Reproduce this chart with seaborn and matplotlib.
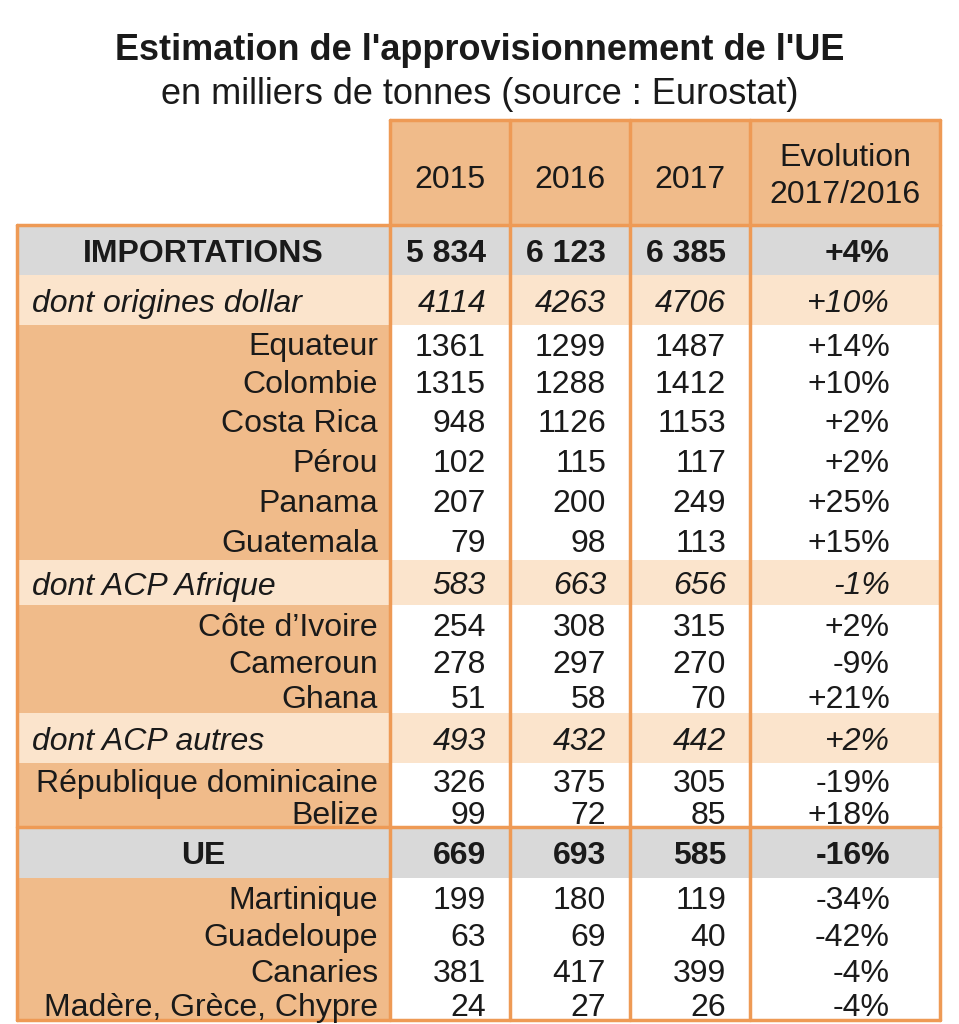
import matplotlib
matplotlib.use("Agg")
import matplotlib.pyplot as plt
from matplotlib.patches import Rectangle
import seaborn as sns

# --- data -------------------------------------------------------------
years = ["2015", "2016", "2017"]
evol_header = "Evolution\n2017/2016"

labels = [
    "IMPORTATIONS", "dont origines dollar",
    "Equateur", "Colombie", "Costa Rica", "Pérou", "Panama", "Guatemala",
    "dont ACP Afrique",
    "Côte d\u2019Ivoire", "Cameroun", "Ghana",
    "dont ACP autres",
    "République dominicaine", "Belize",
    "UE",
    "Martinique", "Guadeloupe", "Canaries", "Madère, Grèce, Chypre",
]
kinds = [
    "total", "group",
    "item", "item", "item", "item", "item", "item",
    "group",
    "item", "item", "item",
    "group",
    "item", "item",
    "total",
    "item", "item", "item", "item",
]
v2015 = ["5 834", "4114", "1361", "1315", "948", "102", "207", "79", "583",
         "254", "278", "51", "493", "326", "99", "669", "199", "63", "381", "24"]
v2016 = ["6 123", "4263", "1299", "1288", "1126", "115", "200", "98", "663",
         "308", "297", "58", "432", "375", "72", "693", "180", "69", "417", "27"]
v2017 = ["6 385", "4706", "1487", "1412", "1153", "117", "249", "113", "656",
         "315", "270", "70", "442", "305", "85", "585", "119", "40", "399", "26"]
evolution = ["+4%", "+10%", "+14%", "+10%", "+2%", "+2%", "+25%", "+15%", "-1%",
             "+2%", "-9%", "+21%", "+2%", "-19%", "+18%", "-16%",
             "-34%", "-42%", "-4%", "-4%"]

# --- layout (pixel units) ----------------------------------------------
W, H = 959, 1024
row_heights = [50, 50, 37, 38, 41, 39, 39, 41, 45, 39, 34, 35, 50, 34, 30,
               51, 38, 36, 36, 32]
col_edges = [17, 390, 510, 630, 750, 940]
header_top, header_bottom = 120, 225
dy = 4  # text baseline nudge

ORANGE = "#f0bb8a"
BORDER = "#ee9a55"
GREY = "#d9d9d9"
PEACH = "#fbe4cc"
TEXT = "#1a1a1a"

sns.set_theme(style="white")
plt.rcParams["font.family"] = ["Liberation Sans", "DejaVu Sans"]

fig = plt.figure(figsize=(W / 100, H / 100), dpi=100)
ax = fig.add_axes([0, 0, 1, 1])
ax.set_xlim(0, W)
ax.set_ylim(H, 0)
ax.axis("off")

fs = 23

# title
ax.text(480, 50, "Estimation de l'approvisionnement de l'UE", ha="center",
        va="center", fontsize=26, fontweight="bold", color=TEXT)
ax.text(480, 94, "en milliers de tonnes (source : Eurostat)", ha="center",
        va="center", fontsize=26, color=TEXT)

# header
ax.add_patch(Rectangle((col_edges[1], header_top), col_edges[-1] - col_edges[1],
                       header_bottom - header_top, color=ORANGE, lw=0))
for i, y in enumerate(years):
    cx = (col_edges[i + 1] + col_edges[i + 2]) / 2
    ax.text(cx, (header_top + header_bottom) / 2 + 3 + dy, y, ha="center",
            va="center", fontsize=fs, color=TEXT)
ax.text((col_edges[4] + col_edges[5]) / 2, (header_top + header_bottom) / 2 + dy,
        evol_header, ha="center", va="center", fontsize=fs, color=TEXT,
        linespacing=1.3)

# body
y0 = header_bottom
num_right = [col_edges[2] - 24, col_edges[3] - 24, col_edges[4] - 24, col_edges[5] - 50]
for lab, kind, a, b, c, e, h in zip(labels, kinds, v2015, v2016, v2017,
                                     evolution, row_heights):
    cy = y0 + h / 2 + dy
    if kind == "total":
        ax.add_patch(Rectangle((col_edges[0], y0), col_edges[-1] - col_edges[0], h,
                               color=GREY, lw=0))
        ax.text((col_edges[0] + col_edges[1]) / 2, cy, lab, ha="center",
                va="center", fontsize=fs, fontweight="bold", color=TEXT)
        style = dict(fontweight="bold")
    elif kind == "group":
        ax.add_patch(Rectangle((col_edges[0], y0), col_edges[-1] - col_edges[0], h,
                               color=PEACH, lw=0))
        ax.text(col_edges[0] + 15, cy, lab, ha="left", va="center",
                fontsize=fs, style="italic", color=TEXT)
        style = dict(style="italic")
    else:
        ax.add_patch(Rectangle((col_edges[0], y0), col_edges[1] - col_edges[0], h,
                               color=ORANGE, lw=0))
        ax.text(col_edges[1] - 12, cy, lab, ha="right", va="center",
                fontsize=fs, color=TEXT)
        style = {}
    for xr, val in zip(num_right, [a, b, c, e]):
        ax.text(xr, cy, val, ha="right", va="center", fontsize=fs, color=TEXT,
                **style)
    y0 += h

body_bottom = y0
ue_top = header_bottom + sum(row_heights[:15])

# borders
lw = 2.5
for x in col_edges[1:]:
    ax.plot([x, x], [header_top, body_bottom], color=BORDER, lw=lw)
ax.plot([col_edges[0], col_edges[0]], [header_bottom, body_bottom], color=BORDER, lw=lw)
ax.plot([col_edges[1], col_edges[-1]], [header_top, header_top], color=BORDER, lw=lw)
for yy in [header_bottom, ue_top, body_bottom]:
    ax.plot([col_edges[0], col_edges[-1]], [yy, yy], color=BORDER, lw=lw)

fig.savefig("out.png", dpi=100)
